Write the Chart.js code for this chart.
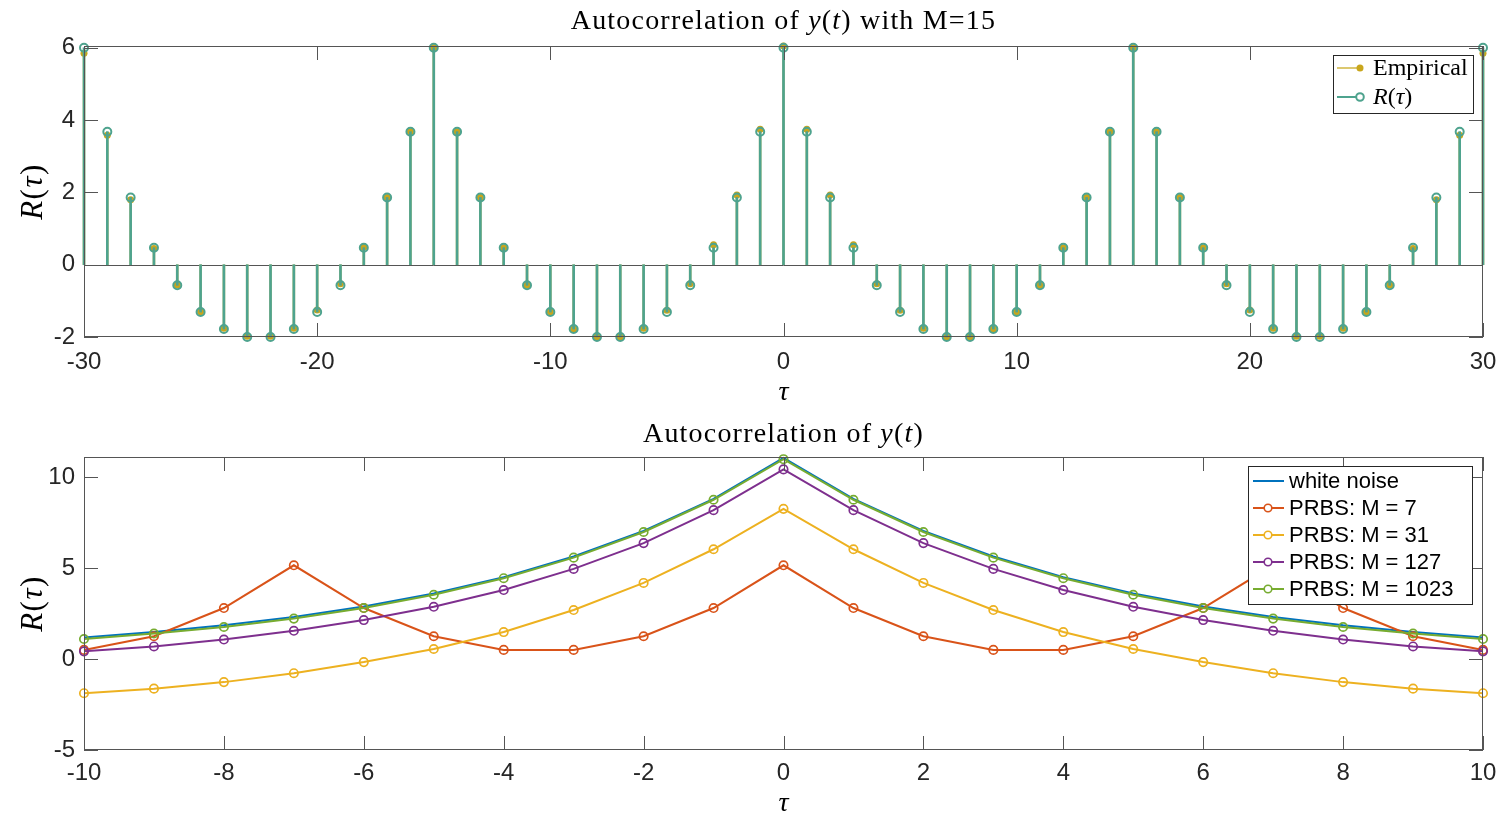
<!DOCTYPE html>
<html>
<head>
<meta charset="utf-8">
<script src="https://cdn.jsdelivr.net/npm/chart.js@4.4.0/dist/chart.umd.min.js"></script>
<style>
    html, body { margin: 0; padding: 0; background: #fff; }
    #wrap { position: relative; width: 1499px; height: 816px; }
    .panel { position: absolute; left: 0; width: 1499px; height: 408px; }
</style>
</head>
<body>
<div id="wrap">
    <div class="panel" style="top:0"><canvas id="topChart"></canvas></div>
    <div class="panel" style="top:408px"><canvas id="bottomChart"></canvas></div>
</div>
<script>
// Top panel: PRBS with M = 15, lags -30..30
const tauTop = [-30, -29, -28, -27, -26, -25, -24, -23, -22, -21, -20, -19, -18, -17, -16,
    -15, -14, -13, -12, -11, -10, -9, -8, -7, -6, -5, -4, -3, -2, -1,
    0, 1, 2, 3, 4, 5, 6, 7, 8, 9, 10, 11, 12, 13, 14,
    15, 16, 17, 18, 19, 20, 21, 22, 23, 24, 25, 26, 27, 28, 29, 30];
const rTheory = [6.0, 3.68, 1.86, 0.47, -0.57, -1.31, -1.78, -2.0, -2.0, -1.78, -1.31, -0.57, 0.47, 1.86, 3.68,
    6.0, 3.68, 1.86, 0.47, -0.57, -1.31, -1.78, -2.0, -2.0, -1.78, -1.31, -0.57, 0.47, 1.86, 3.68,
    6.0, 3.68, 1.86, 0.47, -0.57, -1.31, -1.78, -2.0, -2.0, -1.78, -1.31, -0.57, 0.47, 1.86, 3.68,
    6.0, 3.68, 1.86, 0.47, -0.57, -1.31, -1.78, -2.0, -2.0, -1.78, -1.31, -0.57, 0.47, 1.86, 3.68, 6.0];
const rEmpirical = [5.85, 3.58, 1.8, 0.45, -0.56, -1.3, -1.76, -1.98, -1.98, -1.76, -1.25, -0.53, 0.48, 1.86, 3.68,
    6.0, 3.68, 1.86, 0.47, -0.57, -1.3, -1.78, -2.0, -2.0, -1.76, -1.26, -0.53, 0.55, 1.93, 3.75,
    6.05, 3.75, 1.93, 0.55, -0.53, -1.26, -1.76, -2.0, -2.0, -1.78, -1.3, -0.57, 0.47, 1.86, 3.68,
    6.0, 3.68, 1.86, 0.47, -0.53, -1.25, -1.76, -1.98, -1.98, -1.76, -1.3, -0.56, 0.45, 1.8, 3.58, 5.85];
const topXTicks = [-30, -20, -10, 0, 10, 20, 30];
const topYTicks = [-2, 0, 2, 4, 6];

// Bottom panel: lags -10..10
const tauBottom = [-10, -9, -8, -7, -6, -5, -4, -3, -2, -1, 0, 1, 2, 3, 4, 5, 6, 7, 8, 9, 10];
const whiteNoise = [1.18, 1.48, 1.85, 2.31, 2.88, 3.6, 4.5, 5.63, 7.04, 8.8, 11.05, 8.8, 7.04, 5.63, 4.5, 3.6, 2.88, 2.31, 1.85, 1.48, 1.18];
const prbs7 = [0.5, 1.25, 2.8, 5.15, 2.8, 1.25, 0.5, 0.5, 1.25, 2.8, 5.15, 2.8, 1.25, 0.5, 0.5, 1.25, 2.8, 5.15, 2.8, 1.25, 0.5];
const prbs31 = [-1.88, -1.63, -1.27, -0.78, -0.17, 0.55, 1.48, 2.69, 4.18, 6.03, 8.25, 6.03, 4.18, 2.69, 1.48, 0.55, -0.17, -0.78, -1.27, -1.63, -1.88];
const prbs127 = [0.42, 0.69, 1.07, 1.55, 2.14, 2.87, 3.79, 4.95, 6.37, 8.18, 10.42, 8.18, 6.37, 4.95, 3.79, 2.87, 2.14, 1.55, 1.07, 0.69, 0.42];
const prbs1023 = [1.1, 1.4, 1.76, 2.22, 2.8, 3.53, 4.44, 5.57, 6.98, 8.75, 10.98, 8.75, 6.98, 5.57, 4.44, 3.53, 2.8, 2.22, 1.76, 1.4, 1.1];
const bottomXTicks = [-10, -8, -6, -4, -2, 0, 2, 4, 6, 8, 10];
const bottomYTicks = [-5, 0, 5, 10];

const ink = '#262626';
const frameGray = '#555555';
const teal = '#4ea38e';
const gold = '#c9a61c';
const paleGold = '#dcc870';
const serif = '"Liberation Serif", "DejaVu Serif", serif';
const sans = '"Liberation Sans", Arial, sans-serif';

function points(xs, ys) {
    return xs.map((x, i) => ({ x: x, y: ys[i] }));
}

// draw text made of upright / italic pieces
function drawRich(ctx, parts, x, y, size, align, spacing) {
    const font = p => (p[1] ? 'italic ' : '') + size + 'px ' + serif;
    ctx.letterSpacing = (spacing || 0) + 'px';
    let total = 0;
    parts.forEach(p => { ctx.font = font(p); total += ctx.measureText(p[0]).width; });
    let cx = align === 'center' ? x - total / 2 : x;
    parts.forEach(p => {
        ctx.font = font(p);
        ctx.fillText(p[0], cx, y);
        cx += ctx.measureText(p[0]).width;
    });
    ctx.letterSpacing = '0px';
}

// MATLAB style box, inward ticks, title and axis labels
const framePlugin = {
    id: 'frame',
    beforeDatasetsDraw(chart, args, o) {
        if (!o.baseline) return;
        const { ctx, chartArea: a, scales: { y } } = chart;
        const py = Math.round(y.getPixelForValue(0)) + 0.5;
        ctx.save();
        ctx.strokeStyle = frameGray;
        ctx.lineWidth = 1;
        ctx.beginPath();
        ctx.moveTo(a.left, py);
        ctx.lineTo(a.right, py);
        ctx.stroke();
        ctx.restore();
    },
    afterDatasetsDraw(chart, args, o) {
        const { ctx, chartArea: a, scales: { x, y } } = chart;
        ctx.save();
        ctx.strokeStyle = frameGray;
        ctx.lineWidth = 1;
        ctx.beginPath();
        o.xTicks.forEach(v => {
            const px = Math.round(x.getPixelForValue(v)) + 0.5;
            ctx.moveTo(px, a.bottom); ctx.lineTo(px, a.bottom - 14);
            ctx.moveTo(px, a.top); ctx.lineTo(px, a.top + 14);
        });
        o.yTicks.forEach(v => {
            const py = Math.round(y.getPixelForValue(v)) + 0.5;
            ctx.moveTo(a.left, py); ctx.lineTo(a.left + 14, py);
            ctx.moveTo(a.right, py); ctx.lineTo(a.right - 14, py);
        });
        ctx.stroke();
        ctx.strokeRect(Math.round(a.left) + 0.5, Math.round(a.top) + 0.5,
            Math.round(a.width) - 1, Math.round(a.height) - 1);

        ctx.fillStyle = '#000';
        ctx.textBaseline = 'alphabetic';
        const mid = (a.left + a.right) / 2;
        drawRich(ctx, o.title, mid, o.titleY, 28, 'center', 1.2);
        drawRich(ctx, [['τ', true]], mid, o.xLabelY, 28, 'center');
        ctx.save();
        ctx.translate(o.yLabelX, (a.top + a.bottom) / 2);
        ctx.rotate(-Math.PI / 2);
        drawRich(ctx, [['R', true], ['(', false], ['τ', true], [')', false]], 0, 0, 31, 'center', 1.5);
        ctx.restore();
        ctx.restore();
    }
};

// legend box sitting inside the plot
const boxLegendPlugin = {
    id: 'boxLegend',
    afterDraw(chart, args, o) {
        const ctx = chart.ctx;
        ctx.save();
        ctx.fillStyle = '#fff';
        ctx.fillRect(o.x, o.y, o.w, o.h);
        ctx.strokeStyle = ink;
        ctx.lineWidth = 1;
        ctx.strokeRect(o.x + 0.5, o.y + 0.5, o.w, o.h);
        o.items.forEach((it, i) => {
            const cy = o.y + o.first + i * o.step;
            ctx.strokeStyle = it.line;
            ctx.lineWidth = 2;
            ctx.beginPath();
            ctx.moveTo(o.x + o.lineFrom, cy);
            ctx.lineTo(o.x + o.lineTo, cy);
            ctx.stroke();
            if (it.marker === 'dot') {
                ctx.fillStyle = it.markColor;
                ctx.beginPath();
                ctx.arc(o.x + o.markX, cy, 3.5, 0, Math.PI * 2);
                ctx.fill();
            } else if (it.marker === 'ring') {
                ctx.fillStyle = '#fff';
                ctx.strokeStyle = it.markColor;
                ctx.lineWidth = it.ringWidth || 2;
                ctx.beginPath();
                ctx.arc(o.x + o.markX, cy, 3.8, 0, Math.PI * 2);
                ctx.fill();
                ctx.stroke();
            }
            ctx.fillStyle = '#000';
            ctx.textBaseline = 'middle';
            if (it.rich) {
                drawRich(ctx, it.rich, o.x + o.textX, cy + 1, o.size, 'left');
            } else {
                ctx.font = o.size + 'px ' + sans;
                ctx.fillText(it.text, o.x + o.textX, cy + 1);
            }
        });
        ctx.restore();
    }
};

function makeScale(min, max, ticks, fit, isX, pad) {
    return {
        type: 'linear',
        min: min,
        max: max,
        offset: false,
        grid: { display: false, drawTicks: false },
        border: { display: false },
        ticks: {
            font: { family: sans, size: 24 },
            color: ink,
            padding: pad,
            maxRotation: 0,
            autoSkip: false
        },
        afterBuildTicks: s => { s.ticks = ticks.map(v => ({ value: v })); },
        afterFit: s => {
            if (isX) s.height = fit; else s.width = fit;
            s.paddingLeft = 0;
            s.paddingRight = 0;
        }
    };
}

new Chart(document.getElementById('topChart'), {
    type: 'bar',
    data: {
        datasets: [
            {
                label: 'Empirical stems',
                data: points(tauTop, rEmpirical),
                backgroundColor: paleGold,
                barThickness: 2,
                grouped: false,
                clip: false,
                order: 4
            },
            {
                type: 'line',
                label: 'Empirical',
                data: points(tauTop, rEmpirical),
                showLine: false,
                pointRadius: 3.5,
                pointBorderWidth: 0,
                pointBackgroundColor: gold,
                clip: false,
                order: 3
            },
            {
                label: 'R stems',
                data: points(tauTop, rTheory),
                backgroundColor: teal,
                barThickness: 2,
                grouped: false,
                clip: false,
                order: 2
            },
            {
                type: 'line',
                label: 'R(τ)',
                data: points(tauTop, rTheory),
                showLine: false,
                pointRadius: 4,
                pointBorderWidth: 2,
                pointBorderColor: teal,
                pointBackgroundColor: 'rgba(0,0,0,0)',
                clip: false,
                order: 1
            }
        ]
    },
    options: {
        responsive: true,
        maintainAspectRatio: false,
        animation: false,
        events: [],
        devicePixelRatio: 1,
        layout: { padding: { left: 0, right: 16, top: 46, bottom: 0 } },
        scales: {
            x: makeScale(-30, 30, topXTicks, 71, true, 11),
            y: makeScale(-2, 6.05, topYTicks, 84, false, 9)
        },
        plugins: {
            legend: { display: false },
            tooltip: { enabled: false },
            frame: {
                baseline: true,
                xTicks: topXTicks,
                yTicks: topYTicks,
                title: [['Autocorrelation of ', false], ['y', true], ['(', false], ['t', true], [') with M=15', false]],
                titleY: 29,
                xLabelY: 400,
                yLabelX: 42
            },
            boxLegend: {
                x: 1333, y: 55, w: 140, h: 58,
                first: 13, step: 29,
                lineFrom: 4, lineTo: 30, markX: 27, textX: 40, size: 24,
                items: [
                    { rich: [['Empirical', false]], line: paleGold, marker: 'dot', markColor: gold },
                    { rich: [['R', true], ['(', false], ['τ', true], [')', false]], line: teal, marker: 'ring', markColor: teal }
                ]
            }
        }
    },
    plugins: [framePlugin, boxLegendPlugin]
});

const colors = {
    white: '#0072bd',
    m7: '#d95319',
    m31: '#edb120',
    m127: '#7e2f8e',
    m1023: '#77ac30'
};

function curve(label, ys, color, markers, order) {
    return {
        label: label,
        data: points(tauBottom, ys),
        borderColor: color,
        borderWidth: 2,
        tension: 0,
        pointRadius: markers ? 4.2 : 0,
        pointBorderWidth: 1.7,
        pointBorderColor: color,
        pointBackgroundColor: 'rgba(0,0,0,0)',
        clip: false,
        order: order
    };
}

new Chart(document.getElementById('bottomChart'), {
    type: 'line',
    data: {
        datasets: [
            curve('white noise', whiteNoise, colors.white, false, 5),
            curve('PRBS: M = 7', prbs7, colors.m7, true, 4),
            curve('PRBS: M = 31', prbs31, colors.m31, true, 3),
            curve('PRBS: M = 127', prbs127, colors.m127, true, 2),
            curve('PRBS: M = 1023', prbs1023, colors.m1023, true, 1)
        ]
    },
    options: {
        responsive: true,
        maintainAspectRatio: false,
        animation: false,
        events: [],
        devicePixelRatio: 1,
        layout: { padding: { left: 0, right: 16, top: 49, bottom: 0 } },
        scales: {
            x: makeScale(-10, 10, bottomXTicks, 66, true, 9),
            y: makeScale(-5, 11.1, bottomYTicks, 84, false, 9)
        },
        plugins: {
            legend: { display: false },
            tooltip: { enabled: false },
            frame: {
                baseline: false,
                xTicks: bottomXTicks,
                yTicks: bottomYTicks,
                title: [['Autocorrelation of ', false], ['y', true], ['(', false], ['t', true], [')', false]],
                titleY: 34,
                xLabelY: 403,
                yLabelX: 42
            },
            boxLegend: {
                x: 1248, y: 466 - 408, w: 224, h: 138,
                first: 15, step: 27,
                lineFrom: 5, lineTo: 36, markX: 20, textX: 41, size: 22,
                items: [
                    { text: 'white noise', line: colors.white, marker: 'none' },
                    { text: 'PRBS: M = 7', line: colors.m7, marker: 'ring', markColor: colors.m7, ringWidth: 1.6 },
                    { text: 'PRBS: M = 31', line: colors.m31, marker: 'ring', markColor: colors.m31, ringWidth: 1.6 },
                    { text: 'PRBS: M = 127', line: colors.m127, marker: 'ring', markColor: colors.m127, ringWidth: 1.6 },
                    { text: 'PRBS: M = 1023', line: colors.m1023, marker: 'ring', markColor: colors.m1023, ringWidth: 1.6 }
                ]
            }
        }
    },
    plugins: [framePlugin, boxLegendPlugin]
});
</script>
</body>
</html>
